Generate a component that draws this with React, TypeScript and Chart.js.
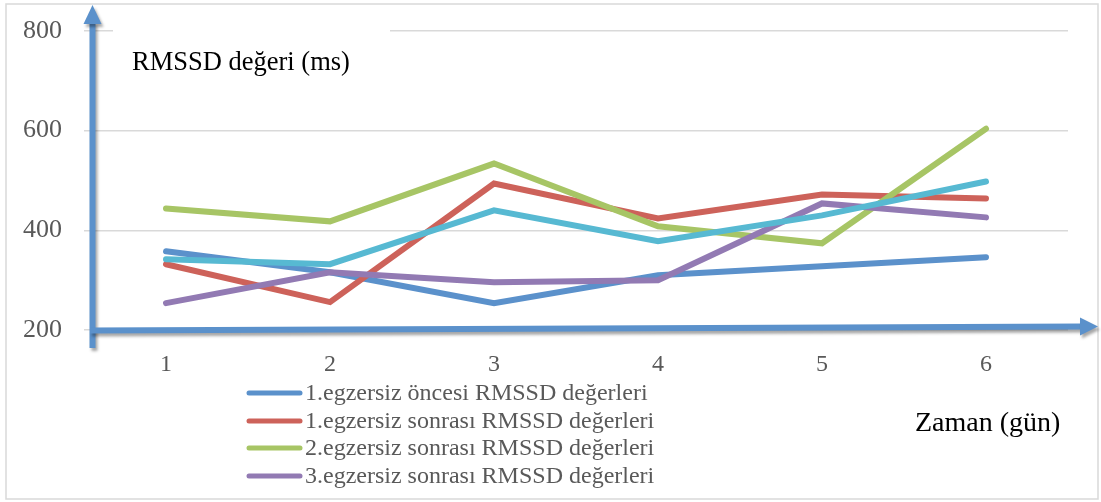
import React, { useEffect, useRef } from "react";
import { Chart, registerables } from "chart.js";

Chart.register(...registerables);

const days = ["1", "2", "3", "4", "5", "6"];
const seriesNames = [
  "1.egzersiz öncesi RMSSD değerleri",
  "1.egzersiz sonrası RMSSD değerleri",
  "2.egzersiz sonrası RMSSD değerleri",
  "3.egzersiz sonrası RMSSD değerleri",
  "",
];
const before1 = [358, 316, 254, 310, 328, 346];
const after1 = [332, 256, 494, 424, 472, 464];
const after2 = [444, 418, 534, 408, 374, 604];
const after3 = [254, 316, 296, 300, 454, 426];
const extraSeries = [342, 332, 440, 378, 430, 498];
const yMin = 200;
const yMax = 800;
const yStep = 200;
const yAxisTitle = "RMSSD değeri (ms)";
const xAxisTitle = "Zaman (gün)";

const COLORS = ["#5B91CB", "#CD625A", "#A7C565", "#927AB3", "#57B9D2"];
const SERIF = "'Liberation Serif', 'DejaVu Serif', serif";

const decorPlugin = {
  id: "decor",
  afterDraw(chart: any) {
    const ctx = chart.ctx as CanvasRenderingContext2D;
    ctx.save();
    // outer border
    ctx.strokeStyle = "#D9D9D9";
    ctx.lineWidth = 1.5;
    ctx.strokeRect(6, 4, 1092, 495);

    // white box behind the y title (covers part of the top gridline)
    ctx.fillStyle = "#FFFFFF";
    ctx.fillRect(113, 24, 277, 66);

    // arrows with shadow
    ctx.shadowColor = "rgba(0,0,0,0.35)";
    ctx.shadowBlur = 3;
    ctx.shadowOffsetX = 2;
    ctx.shadowOffsetY = 3;
    ctx.fillStyle = COLORS[0];
    ctx.strokeStyle = COLORS[0];
    ctx.lineWidth = 6;
    ctx.lineCap = "butt";
    ctx.beginPath();
    ctx.moveTo(92.5, 348);
    ctx.lineTo(92.5, 22);
    ctx.stroke();
    ctx.beginPath();
    ctx.moveTo(92.5, 5);
    ctx.lineTo(101.5, 24);
    ctx.lineTo(83.5, 24);
    ctx.closePath();
    ctx.fill();
    ctx.beginPath();
    ctx.moveTo(90, 330.5);
    ctx.lineTo(1082, 326.5);
    ctx.stroke();
    ctx.beginPath();
    ctx.moveTo(1098, 326.5);
    ctx.lineTo(1080, 317.5);
    ctx.lineTo(1080, 335.5);
    ctx.closePath();
    ctx.fill();
    ctx.shadowColor = "transparent";

    // axis titles
    ctx.fillStyle = "#000000";
    ctx.textBaseline = "alphabetic";
    ctx.textAlign = "left";
    ctx.font = `26.5px ${SERIF}`;
    ctx.fillText(yAxisTitle, 132, 70);
    ctx.font = `28px ${SERIF}`;
    ctx.fillText(xAxisTitle, 915, 431);

    // legend (first four series)
    const rowsY = [393, 421, 448, 476];
    ctx.font = `24px ${SERIF}`;
    ctx.textBaseline = "middle";
    chart.data.datasets.forEach((ds: any, i: number) => {
      if (!ds.label || i >= rowsY.length) return;
      const y = rowsY[i];
      ctx.strokeStyle = ds.borderColor;
      ctx.lineWidth = 5;
      ctx.lineCap = "round";
      ctx.beginPath();
      ctx.moveTo(249, y);
      ctx.lineTo(300, y);
      ctx.stroke();
      ctx.fillStyle = "#595959";
      ctx.fillText(ds.label, 305, y + 1);
    });
    ctx.restore();
  },
};

export default function App() {
  const canvasRef = useRef<HTMLCanvasElement | null>(null);

  useEffect(() => {
    document.body.style.margin = "0";
    const canvas = canvasRef.current;
    if (!canvas) return;
    const allSeries = [before1, after1, after2, after3, extraSeries];
    const chart = new Chart(canvas, {
      type: "line",
      data: {
        labels: days,
        datasets: allSeries.map((d, i) => ({
          label: seriesNames[i],
          data: d,
          borderColor: COLORS[i],
          backgroundColor: COLORS[i],
          borderWidth: 6,
          pointRadius: 0,
          tension: 0,
          fill: false,
          borderCapStyle: "round" as const,
          borderJoinStyle: "miter" as const,
          order: 5 - i,
        })),
      },
      options: {
        responsive: false,
        animation: false,
        devicePixelRatio: 1,
        layout: { padding: { left: 0, right: 33, top: 31, bottom: 0 } },
        plugins: {
          legend: { display: false },
          tooltip: { enabled: false },
          title: { display: false },
        },
        scales: {
          x: {
            type: "category",
            offset: true,
            grid: { display: false, drawTicks: false },
            border: { display: false },
            ticks: {
              color: "#595959",
              font: { family: SERIF, size: 24 },
              padding: 20,
              maxRotation: 0,
            },
            afterFit(scale: any) {
              scale.height = 172;
              scale.paddingLeft = 0;
              scale.paddingRight = 0;
            },
          },
          y: {
            min: yMin,
            max: yMax,
            grid: { color: "#D9D9D9", lineWidth: 1.5, drawTicks: false },
            border: { display: false },
            ticks: {
              stepSize: yStep,
              color: "#595959",
              font: { family: SERIF, size: 26 },
              padding: 22,
            },
            afterFit(scale: any) {
              scale.width = 84;
              scale.paddingTop = 0;
              scale.paddingBottom = 0;
            },
          },
        },
      },
      plugins: [decorPlugin],
    });
    return () => chart.destroy();
  }, []);

  return (
    <div style={{ width: 1101, height: 502 }}>
      <canvas ref={canvasRef} width={1101} height={502} style={{ display: "block" }} />
    </div>
  );
}
